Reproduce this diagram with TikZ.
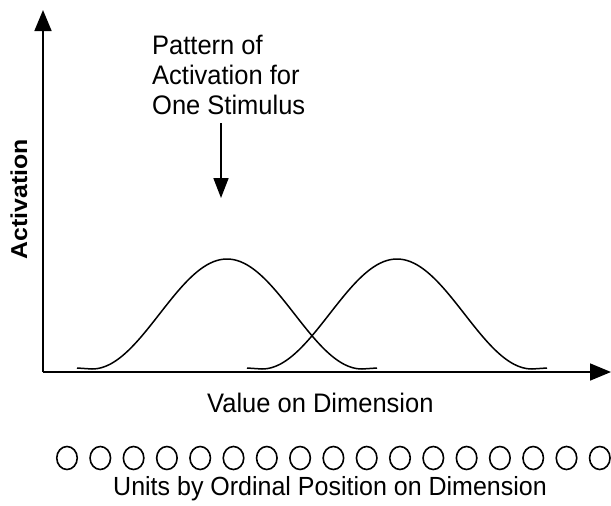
\documentclass[tikz,border=0pt]{standalone}
\usepackage{fontspec}
\setmainfont{Liberation Sans}
\usetikzlibrary{arrows.meta, positioning, shapes.geometric}

\begin{document}
\begin{tikzpicture}[x=1pt, y=-1pt, every node/.style={inner sep=0pt},
  axis/.style={line width=1.7pt, -{Triangle[length=21pt,width=17pt]}},
  bump/.style={line width=1.5pt, line join=round},
  unit/.style={draw, ellipse, line width=1.6pt, minimum width=20.5pt, minimum height=23pt},
  lbl/.style={yscale=1.05, font=\fontsize{25.5}{28.5}\selectfont}]
\useasboundingbox (0,0) rectangle (611,506);
% axes
\coordinate (o) at (43,372);
\coordinate (ytip) at (43,10);
\coordinate (xtip) at (611,372);
\draw[axis] (o) -- (ytip);
\draw[axis] (o) -- (xtip);
\node[yscale=1.08, rotate=90, font=\bfseries\fontsize{23}{27}\selectfont] (act) at (19,199) {Activation};
% two activation patterns
\foreach \c in {227,397}
  \draw[bump] ({\c-150},368) -- ({\c-135},369)
    -- plot[domain=-135:135, samples=90, smooth] ({\c+\x}, {369-110*(1+cos(\x/135*180))/2})
    -- ({\c+150},368);
% pointer
\node[lbl, anchor=north west, align=left] (stim) at (152,35) {Pattern of\\Activation for\\One Stimulus};
\coordinate (ptr-top) at (221,123);
\coordinate (ptr) at (221,198);
\draw[line width=1.7pt, -{Triangle[length=20pt,width=15pt]}] (ptr-top) -- (ptr);
\node[lbl, anchor=base west] (val) at (207,412) {Value on Dimension};
% units
\foreach \i in {1,...,17}
  \node[unit] (u\i) at ({67+33.3*(\i-1)},458) {};
\node[lbl, anchor=base, font=\fontsize{25}{28}\selectfont] (units) at (330,495) {Units by Ordinal Position on Dimension};
\end{tikzpicture}
\end{document}
